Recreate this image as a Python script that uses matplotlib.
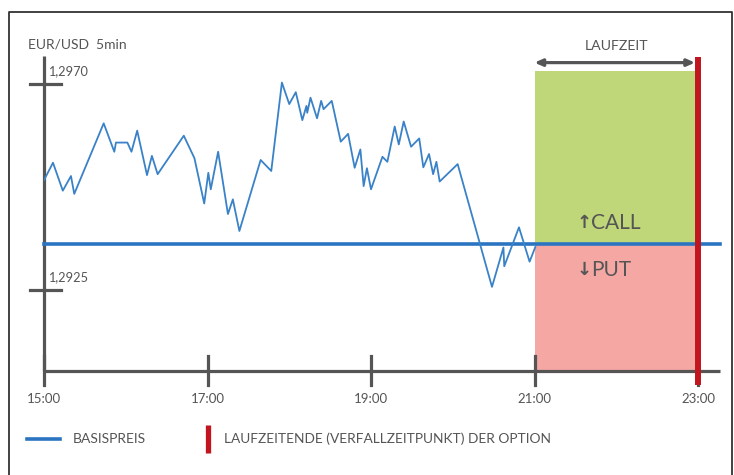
import matplotlib
matplotlib.use("Agg")
import matplotlib.pyplot as plt
from matplotlib.lines import Line2D

plt.rcParams['font.family'] = ['Lato', 'DejaVu Sans']

# EUR/USD 5min quotes (time in hours, price)
hours = [15.00, 15.11, 15.23, 15.33, 15.37, 15.73, 15.86, 15.88, 16.02, 16.07,
         16.14, 16.26, 16.32, 16.39, 16.71, 16.84, 16.96, 17.01, 17.04, 17.13,
         17.25, 17.31, 17.39, 17.65, 17.78, 17.91, 18.00, 18.08, 18.16, 18.21,
         18.22, 18.26, 18.34, 18.39, 18.42, 18.52, 18.63, 18.72, 18.80, 18.87,
         18.91, 18.95, 19.00, 19.14, 19.20, 19.29, 19.34, 19.40, 19.49, 19.59,
         19.64, 19.71, 19.76, 19.80, 19.84, 20.06, 20.48, 20.62, 20.63, 20.81,
         20.94, 21.01]
prices = [1.29490, 1.29528, 1.29467, 1.29499, 1.29460, 1.29614, 1.29552, 1.29572, 1.29572, 1.29552,
          1.29598, 1.29501, 1.29543, 1.29503, 1.29587, 1.29538, 1.29439, 1.29506, 1.29470, 1.29552,
          1.29416, 1.29448, 1.29379, 1.29534, 1.29510, 1.29703, 1.29656, 1.29682, 1.29621, 1.29652,
          1.29637, 1.29670, 1.29625, 1.29663, 1.29645, 1.29663, 1.29574, 1.29591, 1.29517, 1.29557,
          1.29477, 1.29516, 1.29470, 1.29541, 1.29530, 1.29607, 1.29568, 1.29618, 1.29563, 1.29581,
          1.29518, 1.29547, 1.29503, 1.29530, 1.29487, 1.29525, 1.29257, 1.29343, 1.29302, 1.29387,
          1.29312, 1.29344]

base_price = 1.2935
start_hour = 21
expiry_hour = 23
call_top = 1.29728
x_ticks = [15, 17, 19, 21, 23]
x_labels = ['15:00', '17:00', '19:00', '21:00', '23:00']
y_ticks = [1.2970, 1.2925]
y_labels = ['1,2970', '1,2925']

W, H = 734, 475
GRAY = '#555555'
BLUE = '#2b74c2'
RED = '#c1161f'

fig = plt.figure(figsize=(W / 100, H / 100), dpi=100)
ax = fig.add_axes([44 / W, 1 - 370.7 / H, 654 / W, 314.7 / H])
ax.set_xlim(15, 23)
ax.set_ylim(1.29074, 1.29761)
ax.axis('off')

x0, x1 = ax.get_xlim()
y0, y1 = ax.get_ylim()
ppx = (x1 - x0) / 654      # hours per pixel
ppy = (y1 - y0) / 314.7    # price per pixel

# call / put zones
ax.fill_between([start_hour, expiry_hour], base_price, call_top, color='#bfd679', lw=0, zorder=1)
ax.fill_between([start_hour, expiry_hour], y0, base_price, color='#f5a8a3', lw=0, zorder=1)

# axes drawn by hand
ax.plot([x0, x0], [y0, y1], color=GRAY, lw=2.3, solid_capstyle='butt', clip_on=False, zorder=3)
ax.plot([x0, x0 + 676 * ppx], [y0, y0], color=GRAY, lw=2.3, solid_capstyle='butt', clip_on=False, zorder=3)
for t, lab in zip(x_ticks, x_labels):
    ax.plot([t, t], [y0 - 14 * ppy, y0 + 15 * ppy], color=GRAY, lw=2.3, clip_on=False, zorder=3)
    ax.text(t, y0 - 28 * ppy, lab, ha='center', va='center', fontsize=9.5, color=GRAY)
for v, lab in zip(y_ticks, y_labels):
    ax.plot([x0 - 14 * ppx, x0 + 17 * ppx], [v, v], color=GRAY, lw=2.3, clip_on=False, zorder=3)
    ax.text(x0 + 4 * ppx, v + 13 * ppy, lab, ha='left', va='center', fontsize=9.2, color=GRAY)

ax.text(x0 - 16 * ppx, y1 + 11 * ppy, 'EUR/USD  5min', ha='left', va='center', fontsize=10, color=GRAY)

# base price and quotes
ax.plot([x0, x0 + 676 * ppx], [base_price, base_price], color=BLUE, lw=2.6, clip_on=False, zorder=4)
ax.plot(hours, prices, color='#3a82c8', lw=1.3, zorder=4)

# expiry line
ax.plot([expiry_hour, expiry_hour], [y0 - 14 * ppy, y1 - 1 * ppy], color=RED, lw=4.3,
        solid_capstyle='butt', clip_on=False, zorder=5)

# duration arrow
arr_y = call_top + 8.5 * ppy
ax.annotate('', xy=(expiry_hour - 3 * ppx, arr_y), xytext=(start_hour, arr_y),
            arrowprops=dict(arrowstyle='<|-|>,head_length=0.45,head_width=0.2', color=GRAY, lw=2.3,
                            shrinkA=0, shrinkB=0), annotation_clip=False)
ax.text((start_hour + expiry_hour) / 2, call_top + 25 * ppy, 'LAUFZEIT', ha='center', va='center',
        fontsize=10.2, color=GRAY)

# call / put labels with bold arrows
ax.text(start_hour + 50 * ppx, base_price + 21 * ppy, '↑', ha='center', va='center', fontsize=13,
        fontweight='bold', family='DejaVu Sans', color=GRAY)
ax.text(start_hour + 57 * ppx, base_price + 21 * ppy, 'CALL', ha='left', va='center', fontsize=15, color=GRAY)
ax.text(start_hour + 50 * ppx, base_price - 26 * ppy, '↓', ha='center', va='center', fontsize=13,
        fontweight='bold', family='DejaVu Sans', color=GRAY)
ax.text(start_hour + 57 * ppx, base_price - 26 * ppy, 'PUT', ha='left', va='center', fontsize=15, color=GRAY)

# legend
def fx(x):
    return x / W

def fy(y):
    return 1 - y / H

fig.add_artist(Line2D([fx(27), fx(60)], [fy(439), fy(439)], color=BLUE, lw=2.6))
fig.text(fx(73), fy(439), 'BASISPREIS', ha='left', va='center', fontsize=10, color=GRAY)
fig.add_artist(Line2D([fx(208), fx(208)], [fy(425), fy(453)], color=RED, lw=3.8, solid_capstyle='butt'))
fig.text(fx(224), fy(439), 'LAUFZEITENDE (VERFALLZEITPUNKT) DER OPTION', ha='left', va='center',
         fontsize=9.9, color=GRAY)

# outer frame
fig.add_artist(Line2D([fx(9), fx(9), fx(732), fx(732)], [fy(480), fy(12), fy(12), fy(480)],
                      color='#333333', lw=1.3))

fig.savefig('out.png', dpi=100)
